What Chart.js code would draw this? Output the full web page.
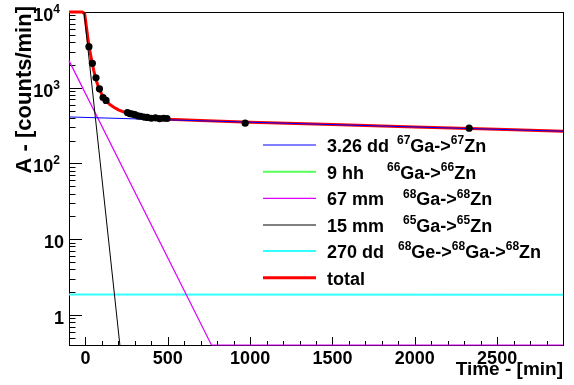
<!DOCTYPE html>
<html>
<head>
<meta charset="utf-8">
<script src="https://cdn.jsdelivr.net/npm/chart.js@4/dist/chart.umd.min.js"></script>
<style>
  body { margin: 0; background: #fff; }
  canvas { display: block; }
</style>
</head>
<body>
<canvas id="decay" width="574" height="385"></canvas>
<script>
// time axis in minutes, activity in counts/min (log)
const xTickLabels = [0, 500, 1000, 1500, 2000, 2500];
const yTickLabels = [[1, ''], [10, ''], [100, '2'], [1000, '3'], [10000, '4']];

const seriesNames = ['3.26 dd', '9 hh', '67 mm', '15 mm', '270 dd', 'total'];
const reactions = ['^{67}Ga->^{67}Zn', '^{66}Ga->^{66}Zn', '^{68}Ga->^{68}Zn', '^{65}Ga->^{65}Zn', '^{68}Ge->^{68}Ga->^{68}Zn', ''];

// measured points
const measTime = [21, 42, 64, 85, 107, 125, 255, 270, 285, 300, 318, 335, 355, 375, 400, 425, 450, 475, 495, 970, 2330];
const measRate = [3480, 2100, 1350, 968, 743, 679, 470, 455, 450, 440, 425, 420, 410, 405, 395, 400, 390, 395, 392, 340, 292];

// fitted components
const ga67Time = [-100, 2900];
const ga67Rate = [411, 266];
const ga66Time = [];
const ga66Rate = [];
const ga68Time = [-100, 765, 2900];
const ga68Rate = [2280, 0.4, 0.4];
const ga65Time = [-100, 209];
const ga65Rate = [690000, 0.4];
const ge68Time = [-100, 2900];
const ge68Rate = [1.86, 1.85];
const totalTime = [-100, -20, -5, 0, 10, 20, 30, 40, 50, 60, 70, 80, 90, 100, 115, 130, 150, 175, 200, 250, 300, 400, 500, 700, 1000, 1500, 2000, 2500, 2900];
const totalRate = [10000, 10000, 9500, 7900, 5400, 3700, 2800, 2150, 1700, 1380, 1160, 1010, 900, 810, 720, 655, 595, 548, 510, 462, 432, 400, 384, 368, 350, 326, 303, 282, 266];

const pts = (xs, ys) => xs.map((x, i) => ({ x: x, y: ys[i] }));

const FONT = '"Liberation Sans", Arial, sans-serif';

function drawRich(ctx, str, x, y, size) {
    // handles ^{..} superscripts like ROOT's TLatex
    const parts = str.split(/(\^\{[^}]*\})/).filter(s => s.length);
    parts.forEach(p => {
        if (p.startsWith('^{')) {
            const t = p.slice(2, -1);
            ctx.font = 'bold ' + Math.round(size * 0.68) + 'px ' + FONT;
            ctx.fillText(t, x, y - size * 0.42);
            x += ctx.measureText(t).width;
        } else {
            ctx.font = 'bold ' + size + 'px ' + FONT;
            ctx.fillText(p, x, y);
            x += ctx.measureText(p).width;
        }
    });
    return x;
}

const rootFrame = {
    id: 'rootFrame',
    beforeDatasetsDraw(chart) {
        const { ctx, chartArea: a, scales } = chart;
        ctx.save();
        ctx.strokeStyle = '#000';
        ctx.lineWidth = 1;
        ctx.beginPath();
        // x ticks, pointing inwards
        for (let v = -100; v <= 2900; v += 100) {
            const px = Math.round(scales.x.getPixelForValue(v)) + 0.5;
            const len = v % 500 === 0 ? 8 : 4;
            ctx.moveTo(px, a.bottom);
            ctx.lineTo(px, a.bottom - len);
        }
        // y ticks
        for (let d = 0.1; d < 20000; d *= 10) {
            for (let m = 1; m <= 9; m++) {
                const v = d * m;
                if (v < 0.4 || v > 10000.5) continue;
                const py = Math.round(scales.y.getPixelForValue(v)) + 0.5;
                const len = m === 1 ? 13 : 6.5;
                ctx.moveTo(a.left, py);
                ctx.lineTo(a.left + len, py);
            }
        }
        ctx.stroke();
        ctx.strokeRect(a.left + 0.5, a.top + 0.5, a.right - a.left, a.bottom - a.top);
        ctx.restore();
    },
    afterDatasetsDraw(chart) {
        const { ctx, chartArea: a, scales } = chart;
        ctx.save();
        ctx.fillStyle = '#000';

        // x tick labels
        ctx.font = 'bold 18px ' + FONT;
        ctx.textAlign = 'center';
        ctx.textBaseline = 'alphabetic';
        xTickLabels.forEach(v => {
            ctx.fillText(String(v), scales.x.getPixelForValue(v), 364);
        });

        // y tick labels
        ctx.textAlign = 'left';
        yTickLabels.forEach(([v, exp]) => {
            const py = scales.y.getPixelForValue(v) + 9;
            ctx.font = 'bold 18px ' + FONT;
            const base = String(exp ? 10 : v);
            const wb = ctx.measureText(base).width;
            if (exp) {
                ctx.font = 'bold 12px ' + FONT;
                const we = ctx.measureText(exp).width;
                const x0 = 60 - we - wb;
                ctx.font = 'bold 18px ' + FONT;
                ctx.fillText(base, x0, py);
                ctx.font = 'bold 12px ' + FONT;
                ctx.fillText(exp, x0 + wb, py - 8);
            } else {
                ctx.fillText(base, 64 - wb, py);
            }
        });

        // axis titles
        ctx.font = 'bold 19px ' + FONT;
        ctx.textAlign = 'right';
        ctx.fillText('Time - [min]', a.right, 375);
        ctx.save();
        ctx.font = 'bold 22px ' + FONT;
        ctx.translate(25, 6);
        ctx.rotate(-Math.PI / 2);
        ctx.textBaseline = 'middle';
        ctx.fillText('A - [counts/min]', 0, 0);
        ctx.restore();

        // legend
        const rowY = [145, 171.7, 198.3, 225, 251, 277.7];
        const reactX = [397, 387, 403, 403, 398, 0];
        ctx.textAlign = 'left';
        ctx.textBaseline = 'alphabetic';
        seriesNames.forEach((name, i) => {
            const ds = chart.data.datasets.find(d => d.label === name);
            ctx.strokeStyle = ds.borderColor;
            ctx.lineWidth = ds.borderWidth;
            ctx.beginPath();
            ctx.moveTo(263, rowY[i]);
            ctx.lineTo(316, rowY[i]);
            ctx.stroke();
            ctx.fillStyle = '#000';
            drawRich(ctx, name, 327, rowY[i] + 7, 18);
            if (reactions[i]) drawRich(ctx, reactions[i], reactX[i], rowY[i] + 7, 18);
        });
        ctx.restore();
    }
};

const lineSet = (label, data, color, width, order, clip) => ({
    label: label,
    data: data,
    showLine: true,
    borderColor: color,
    borderWidth: width,
    pointRadius: 0,
    order: order,
    clip: clip
});

new Chart(document.getElementById('decay'), {
    type: 'scatter',
    data: {
        datasets: [
            {
                label: 'data',
                data: pts(measTime, measRate),
                pointRadius: 3.6,
                pointBackgroundColor: '#000',
                pointBorderColor: '#000',
                borderWidth: 0,
                order: 0
            },
            lineSet(seriesNames[0], pts(ga67Time, ga67Rate), '#0000ff', 1, 1, 0),
            lineSet(seriesNames[3], pts(ga65Time, ga65Rate), '#000000', 1, 2, 0),
            lineSet(seriesNames[2], pts(ga68Time, ga68Rate), '#dd00ff', 1.2, 3, 1),
            lineSet(seriesNames[4], pts(ge68Time, ge68Rate), '#33ffff', 2, 4, 0),
            lineSet(seriesNames[1], pts(ga66Time, ga66Rate), '#55ff55', 2, 5, 0),
            lineSet(seriesNames[5], pts(totalTime, totalRate), '#ff0000', 3, 6, 3)
        ]
    },
    options: {
        responsive: false,
        animation: false,
        layout: { padding: { left: 69, right: 11, top: 12, bottom: 40 } },
        scales: {
            x: { type: 'linear', min: -100, max: 2900, display: false },
            y: { type: 'logarithmic', min: 0.4, max: 10000, display: false }
        },
        plugins: {
            legend: { display: false },
            tooltip: { enabled: false }
        }
    },
    plugins: [rootFrame]
});
</script>
</body>
</html>
